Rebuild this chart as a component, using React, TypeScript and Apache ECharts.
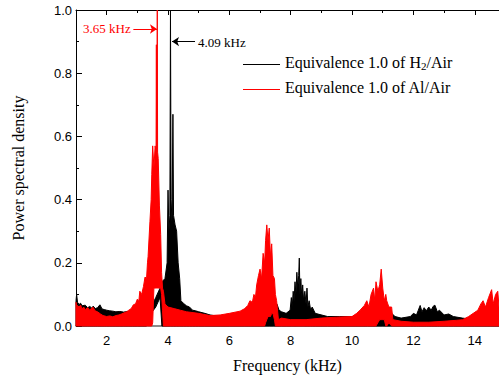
import React, { useEffect, useRef } from 'react';
import * as echarts from 'echarts';

// [frequency kHz, lower edge, upper edge] of the noisy PSD band
const h2Spectrum: number[][] = [
  [1.0, 0, 0.08], [1.02, 0, 0.1], [1.05, 0, 0.075], [1.1, 0, 0.068], [1.15, 0, 0.072],
  [1.2, 0, 0.064], [1.3, 0, 0.066], [1.38, 0, 0.058], [1.45, 0, 0.062], [1.52, 0, 0.056],
  [1.56, 0, 0.063], [1.63, 0, 0.055], [1.7, 0, 0.058], [1.78, 0, 0.067], [1.85, 0, 0.054],
  [1.92, 0, 0.052], [2.0, 0, 0.05], [2.1, 0, 0.048], [2.2, 0, 0.047], [2.3, 0, 0.045],
  [2.43, 0, 0.046], [2.55, 0, 0.044], [2.7, 0, 0.046], [2.85, 0, 0.044], [3.0, 0, 0.046],
  [3.15, 0, 0.045], [3.3, 0, 0.048], [3.45, 0.04, 0.06], [3.6, 0.06, 0.09], [3.74, 0.09, 0.12],
  [3.8, 0, 0.14], [3.9, 0, 0.15], [3.97, 0, 0.2], [4.0, 0, 0.43], [4.03, 0, 0.3],
  [4.06, 0, 0.35], [4.08, 0, 1.05], [4.1, 0, 0.4], [4.13, 0, 0.33], [4.16, 0, 0.67],
  [4.18, 0, 0.35], [4.23, 0, 0.32], [4.28, 0, 0.3], [4.33, 0, 0.2], [4.38, 0, 0.15],
  [4.42, 0, 0.08], [4.5, 0, 0.072], [4.6, 0, 0.064], [4.7, 0, 0.06], [4.8, 0, 0.05],
  [4.9, 0, 0.048], [5.0, 0, 0.045], [5.2, 0, 0.04], [5.37, 0, 0.035], [5.7, 0, 0.03],
  [6.0, 0, 0.025], [6.5, 0, 0.022], [6.9, 0, 0.03], [7.1, 0, 0.045], [7.3, 0, 0.055],
  [7.45, 0, 0.066], [7.55, 0, 0.07], [7.62, 0, 0.05], [7.7, 0, 0.045], [7.85, 0, 0.04],
  [7.98, 0, 0.05], [8.02, 0, 0.09], [8.05, 0, 0.06], [8.08, 0, 0.11], [8.11, 0, 0.08],
  [8.14, 0, 0.14], [8.17, 0, 0.1], [8.2, 0, 0.17], [8.23, 0, 0.12], [8.26, 0, 0.16],
  [8.28, 0, 0.215], [8.3, 0, 0.1], [8.33, 0, 0.15], [8.36, 0, 0.09], [8.39, 0, 0.13],
  [8.42, 0, 0.08], [8.46, 0, 0.11], [8.5, 0, 0.07], [8.53, 0, 0.12], [8.56, 0, 0.06],
  [8.6, 0, 0.08], [8.65, 0, 0.05], [8.7, 0, 0.06], [8.8, 0, 0.04], [9.2, 0, 0.03],
  [9.6, 0, 0.03], [10.0, 0, 0.03], [10.5, 0, 0.035], [11.0, 0, 0.04], [11.24, 0, 0.045],
  [11.4, 0, 0.03], [11.6, 0, 0.025], [11.9, 0, 0.03], [12.0, 0, 0.04], [12.1, 0, 0.035],
  [12.16, 0, 0.05], [12.22, 0, 0.065], [12.28, 0, 0.045], [12.35, 0, 0.058], [12.42, 0, 0.048],
  [12.5, 0, 0.06], [12.58, 0, 0.05], [12.64, 0, 0.062], [12.7, 0, 0.066], [12.78, 0, 0.045],
  [12.85, 0, 0.05], [13.0, 0, 0.035], [13.15, 0, 0.038], [13.3, 0, 0.03], [13.6, 0, 0.025],
  [14.0, 0, 0.02], [14.5, 0, 0.02], [14.79, 0, 0.02],
];

const alSpectrum: number[][] = [
  [1.0, 0, 0.075], [1.03, 0, 0.058], [1.05, 0, 0.065], [1.1, 0, 0.06], [1.15, 0, 0.066],
  [1.2, 0, 0.054], [1.25, 0, 0.06], [1.3, 0, 0.052], [1.38, 0, 0.058], [1.45, 0, 0.05],
  [1.5, 0, 0.056], [1.56, 0, 0.059], [1.62, 0, 0.048], [1.7, 0, 0.045], [1.8, 0, 0.038],
  [1.88, 0, 0.033], [2.0, 0, 0.03], [2.1, 0, 0.032], [2.2, 0, 0.029], [2.3, 0, 0.033],
  [2.4, 0, 0.035], [2.48, 0, 0.038], [2.55, 0, 0.041], [2.65, 0, 0.045], [2.72, 0, 0.05],
  [2.8, 0, 0.055], [2.87, 0, 0.067], [2.94, 0, 0.07], [3.0, 0, 0.085], [3.05, 0, 0.08],
  [3.08, 0, 0.11], [3.14, 0, 0.1], [3.2, 0, 0.125], [3.25, 0, 0.155], [3.3, 0, 0.15],
  [3.33, 0, 0.2], [3.35, 0, 0.22], [3.41, 0, 0.33], [3.45, 0, 0.4], [3.47, 0, 0.48],
  [3.5, 0.01, 0.57], [3.54, 0.12, 0.5], [3.58, 0.12, 0.57], [3.61, 0.12, 0.55], [3.62, 0.12, 0.89],
  [3.63, 0.12, 0.5], [3.65, 0.12, 1.05], [3.66, 0.12, 0.55], [3.68, 0.12, 0.53], [3.72, 0.12, 0.38],
  [3.76, 0.12, 0.29], [3.79, 0.1, 0.17], [3.82, 0.05, 0.12], [3.85, 0, 0.11], [3.9, 0, 0.07],
  [4.0, 0, 0.06], [4.2, 0, 0.055], [4.4, 0, 0.05], [4.6, 0, 0.045], [5.0, 0, 0.04],
  [5.37, 0, 0.033], [5.7, 0, 0.035], [6.0, 0, 0.04], [6.35, 0, 0.047], [6.5, 0, 0.055],
  [6.6, 0, 0.065], [6.67, 0, 0.08], [6.75, 0, 0.075], [6.8, 0, 0.1], [6.85, 0, 0.09],
  [6.89, 0, 0.13], [6.95, 0, 0.16], [7.0, 0, 0.18], [7.05, 0, 0.15], [7.1, 0, 0.23],
  [7.15, 0, 0.2], [7.18, 0.01, 0.27], [7.22, 0.02, 0.32], [7.26, 0.03, 0.27], [7.3, 0.03, 0.31],
  [7.34, 0.03, 0.22], [7.38, 0.04, 0.26], [7.42, 0.04, 0.16], [7.47, 0.02, 0.15], [7.5, 0, 0.1],
  [7.54, 0, 0.08], [7.6, 0, 0.02], [7.7, 0, 0.025], [8.0, 0, 0.02], [8.5, 0, 0.02],
  [9.0, 0, 0.025], [9.5, 0, 0.028], [10.0, 0, 0.03], [10.15, 0, 0.04], [10.26, 0, 0.05],
  [10.4, 0, 0.065], [10.48, 0, 0.08], [10.55, 0, 0.06], [10.62, 0, 0.1], [10.7, 0, 0.12],
  [10.74, 0, 0.08], [10.78, 0, 0.14], [10.84, 0.01, 0.11], [10.9, 0.02, 0.13], [10.95, 0.02, 0.18],
  [11.0, 0.02, 0.12], [11.05, 0.02, 0.08], [11.1, 0, 0.1], [11.13, 0, 0.08], [11.2, 0.01, 0.06],
  [11.29, 0, 0.06], [11.33, 0, 0.02], [11.6, 0, 0.015], [12.0, 0, 0.012], [12.5, 0, 0.012],
  [13.0, 0, 0.015], [13.4, 0, 0.018], [13.6, 0, 0.02], [13.8, 0, 0.03], [13.95, 0, 0.04],
  [14.1, 0, 0.05], [14.2, 0, 0.07], [14.27, 0, 0.08], [14.35, 0, 0.06], [14.45, 0, 0.09],
  [14.55, 0, 0.115], [14.6, 0, 0.07], [14.68, 0, 0.1], [14.75, 0, 0.11], [14.79, 0, 0.06],
];

const xMin = 1;
const xMax = 14.79;
const xMajorTicks = [2, 4, 6, 8, 10, 12, 14];
const yTicks = [0, 0.2, 0.4, 0.6, 0.8, 1.0];
const h2Name = 'Equivalence 1.0 of H2/Air';
const alName = 'Equivalence 1.0 of Al/Air';
const h2Color = '#000000';
const alColor = '#ff0000';
const h2Peak = { label: '4.09 kHz', freq: 4.09 };
const alPeak = { label: '3.65 kHz', freq: 3.65 };

const SERIF = '"Liberation Serif", "Times New Roman", serif';
const SANS = '"Liberation Sans", Arial, sans-serif';

function bandSeries(name: string, color: string, pts: number[][]) {
  return {
    name,
    type: 'custom',
    coordinateSystem: 'cartesian2d',
    color,
    itemStyle: { color, borderWidth: 0 },
    data: pts,
    encode: { x: 0, y: [1, 2] },
    renderItem: (params: any, api: any) => {
      if (params.dataIndex !== 0) return null;
      const top = pts.map((p) => api.coord([p[0], p[2]]));
      const bottom = pts
        .slice()
        .reverse()
        .map((p) => api.coord([p[0], p[1]]));
      const cs = params.coordSys;
      const points = echarts.graphic.clipPointsByRect(top.concat(bottom), {
        x: cs.x,
        y: cs.y,
        width: cs.width,
        height: cs.height,
      });
      return {
        type: 'polygon',
        shape: { points },
        style: { fill: color, stroke: color, lineWidth: 1 },
      };
    },
  };
}

export default function App() {
  const ref = useRef<HTMLDivElement>(null);
  useEffect(() => {
    if (!ref.current) return;
    const chart = echarts.init(ref.current, undefined, { renderer: 'svg' });
    const arrowLine = (color: string, from: number[], to: number[]) => [
      { coord: from, lineStyle: { color } },
      { coord: to },
    ];
    chart.setOption({
      animation: false,
      backgroundColor: '#ffffff',
      grid: { left: 76, right: 0, top: 10, bottom: 55, outerBoundsMode: 'none' },
      legend: {
        data: [h2Name, alName],
        orient: 'vertical',
        left: 243,
        top: 54,
        padding: 0,
        itemWidth: 37,
        itemHeight: 1,
        itemGap: 8,
        icon: 'none',
        itemStyle: { opacity: 0, borderWidth: 0 },
        lineStyle: { opacity: 0, width: 0 },
        formatter: (n: string) =>
          n === h2Name ? '{t|Equivalence 1.0 of H}{s|2}{t|/Air}' : '{t|' + n + '}',
        textStyle: {
          rich: {
            t: { fontFamily: SERIF, fontSize: 16, lineHeight: 18, color: '#000' },
            s: { fontFamily: SERIF, fontSize: 11, lineHeight: 18, color: '#000', verticalAlign: 'bottom', padding: [6, 0, 0, 0] },
          },
        },
      },
      xAxis: [
        {
          type: 'value',
          position: 'bottom',
          min: xMin,
          max: xMax,
          interval: 1,
          axisLine: { lineStyle: { color: '#666', width: 1.5 } },
          axisTick: { show: false },
          splitLine: { show: false },
          axisLabel: {
            formatter: (v: number) => (xMajorTicks.includes(v) ? String(v) : ''),
            fontFamily: SANS,
            fontSize: 13,
            color: '#000',
            margin: 8,
          },
          name: 'Frequency (kHz)',
          nameLocation: 'middle',
          nameGap: 31,
          nameTextStyle: { fontFamily: SERIF, fontSize: 16, color: '#000' },
        },
        {
          type: 'value',
          position: 'top',
          min: xMin,
          max: xMax,
          interval: 1,
          axisLine: { show: true, lineStyle: { color: '#000', width: 1 } },
          axisTick: { show: true, inside: true, length: 3, lineStyle: { color: '#000' } },
          axisLabel: { show: false },
          splitLine: { show: false },
        },
        {
          type: 'value',
          position: 'top',
          min: xMin,
          max: xMax,
          interval: 1,
          axisLine: { show: false },
          axisTick: { show: true, inside: true, length: 5, customValues: xMajorTicks, lineStyle: { color: '#000' } },
          axisLabel: { show: false },
          splitLine: { show: false },
        },
      ],
      yAxis: {
        type: 'value',
        min: yTicks[0],
        max: yTicks[yTicks.length - 1],
        interval: 0.2,
        axisLine: { show: true, lineStyle: { color: '#000', width: 1 } },
        axisTick: { show: true, inside: true, length: 6, lineStyle: { color: '#000' } },
        minorTick: { show: true, splitNumber: 2, length: 3, lineStyle: { color: '#000' } },
        splitLine: { show: false },
        minorSplitLine: { show: false },
        axisLabel: {
          formatter: (v: number) => v.toFixed(1),
          fontFamily: SANS,
          fontSize: 13,
          color: '#000',
          margin: 4,
        },
        name: 'Power spectral density',
        nameLocation: 'middle',
        nameGap: 50,
        nameTextStyle: { fontFamily: SERIF, fontSize: 16, color: '#000' },
      },
      series: [
        bandSeries(h2Name, h2Color, h2Spectrum),
        bandSeries(alName, alColor, alSpectrum),
        {
          name: 'annotations',
          type: 'line',
          data: [],
          silent: true,
          markLine: {
            silent: true,
            symbol: ['none', 'arrow'],
            symbolSize: [7, 7],
            label: { show: false },
            lineStyle: { width: 1, type: 'solid' },
            data: [
              arrowLine(alColor, [2.87, 0.94], [alPeak.freq - 0.01, 0.94]),
              arrowLine(h2Color, [4.88, 0.9], [h2Peak.freq + 0.04, 0.9]),
            ],
          },
        },
      ],
      graphic: [
        {
          type: 'line',
          shape: { x1: 243, y1: 64.5, x2: 280, y2: 64.5 },
          style: { stroke: h2Color, lineWidth: 1 },
        },
        {
          type: 'line',
          shape: { x1: 243, y1: 89.5, x2: 280, y2: 89.5 },
          style: { stroke: alColor, lineWidth: 1 },
        },
        {
          type: 'text',
          x: 83,
          y: 28.5,
          style: { text: alPeak.label, fill: alColor, fontFamily: SERIF, fontSize: 13, verticalAlign: 'middle', align: 'left' },
        },
        {
          type: 'text',
          x: 198,
          y: 42.5,
          style: { text: h2Peak.label, fill: '#000', fontFamily: SERIF, fontSize: 13, verticalAlign: 'middle', align: 'left' },
        },
      ],
    });
    return () => chart.dispose();
  }, []);
  return <div ref={ref} style={{ position: 'absolute', left: 0, top: 0, width: 499, height: 381 }} />;
}
